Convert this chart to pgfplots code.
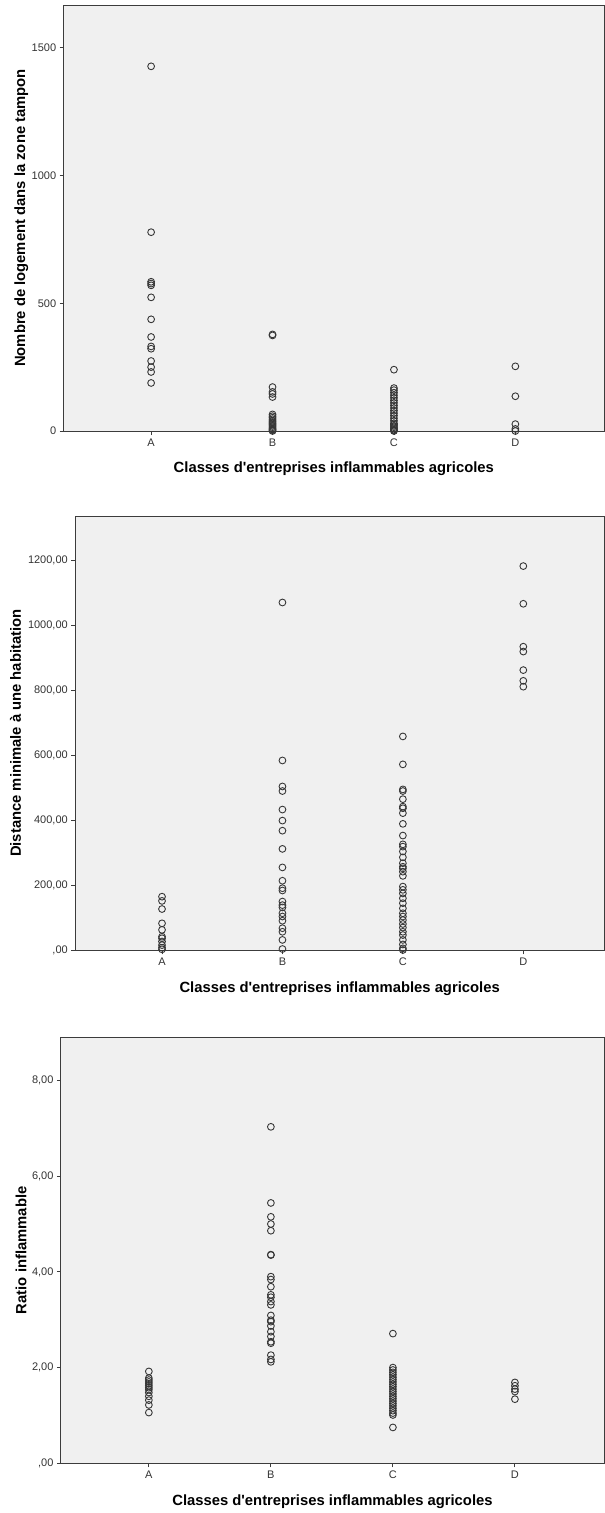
\documentclass[border=0pt]{standalone}
\usepackage{fontspec}
\setmainfont{Liberation Sans}
\usepackage{pgfplots}
\pgfplotsset{compat=1.18}
\definecolor{bgc}{RGB}{240,240,240}
\definecolor{axc}{RGB}{60,60,60}
\definecolor{mkc}{RGB}{55,55,55}
\pgfplotsset{
  spss/.style={
    scale only axis, clip=false,
    axis background/.style={fill=bgc},
    axis line style={axc, line width=1pt},
    tick style={axc, line width=0.9pt},
    tick align=outside, major tick length=4pt,
    xtick pos=bottom, ytick pos=left,
    xtick={1,2,3,4}, xticklabels={A,B,C,D},
    ymin=0,
    tick label style={font=\fontsize{11}{13}\selectfont, text=black!80},
    label style={font=\fontsize{14.8}{17}\selectfont\bfseries},
    /pgf/number format/assume math mode=true,
  },
  sm/.style={only marks, mark=o, mark size=3.4pt, draw=mkc, mark options={draw=mkc, fill=none, line width=0.9pt}},
}
\newcommand{\xlab}{Classes d\textquotesingle entreprises inflammables agricoles}
\begin{document}
\begin{tikzpicture}[x=1pt,y=1pt]
\path[use as bounding box] (0,0) rectangle (605,-1513);
% ---------- Plot 1
\begin{axis}[spss, at={(63.7pt,-431pt)}, anchor=south west,
  width=540.3pt, height=426pt, xmin=0.28, xmax=4.73, ymax=1667,
  ytick={0,500,1000,1500}, yticklabels={0,500,1000,1500},
  xlabel={\xlab}, ylabel={Nombre de logement dans la zone tampon},
  xlabel style={at={(axis description cs:0.5,-0.0883)}, anchor=center},
  ylabel style={at={(axis description cs:-0.0785,0.5)}, anchor=center}]
\addplot[sm] coordinates {(1,1427)(1,778)(1,584)(1,577)(1,570)(1,523)(1,437)(1,368)(1,331)(1,322)(1,274)(1,250)(1,231)(1,188)};
\addplot[sm] coordinates {(2,378)(2,374)(2,172)(2,153)(2,145)(2,133)(2,65)(2,58)(2,52)(2,46)(2,40)(2,35)(2,30)(2,25)(2,20)(2,15)(2,10)(2,6)(2,3)(2,0)};
\addplot[sm] coordinates {(3,240)(3,168)(3,160)(3,150)(3,140)(3,130)(3,120)(3,110)(3,100)(3,90)(3,80)(3,70)(3,60)(3,50)(3,40)(3,30)(3,25)(3,20)(3,15)(3,10)(3,5)(3,2)(3,0)};
\addplot[sm] coordinates {(4,253)(4,136)(4,27)(4,8)(4,0)};
\end{axis}
% ---------- Plot 2
\begin{axis}[spss, at={(75.3pt,-950.3pt)}, anchor=south west,
  width=528.7pt, height=434.3pt, xmin=0.28, xmax=4.67, ymax=1336,
  ytick={0,200,400,600,800,1000,1200}, yticklabels={{,00},{200,00},{400,00},{600,00},{800,00},{1000,00},{1200,00}},
  xlabel={\xlab}, ylabel={Distance minimale à une habitation},
  xlabel style={at={(axis description cs:0.5,-0.0891)}, anchor=center},
  ylabel style={at={(axis description cs:-0.1133,0.5)}, anchor=center}]
\addplot[sm] coordinates {(1,165)(1,152)(1,127)(1,83)(1,63)(1,42)(1,37)(1,27)(1,16)(1,8)(1,3)};
\addplot[sm] coordinates {(2,1070)(2,584)(2,504)(2,490)(2,433)(2,399)(2,368)(2,312)(2,255)(2,214)(2,191)(2,184)(2,150)(2,139)(2,132)(2,114)(2,104)(2,91)(2,68)(2,57)(2,32)(2,4)};
\addplot[sm] coordinates {(3,658)(3,572)(3,495)(3,490)(3,465)(3,442)(3,437)(3,422)(3,389)(3,353)(3,326)(3,319)(3,304)(3,286)(3,268)(3,257)(3,252)(3,242)(3,229)(3,196)(3,186)(3,175)(3,160)(3,145)(3,129)(3,114)(3,104)(3,93)(3,81)(3,70)(3,57)(3,47)(3,32)(3,18)(3,6)(3,1)};
\addplot[sm] coordinates {(4,1182)(4,1066)(4,934)(4,919)(4,862)(4,829)(4,811)};
\end{axis}
% ---------- Plot 3
\begin{axis}[spss, at={(61pt,-1463.3pt)}, anchor=south west,
  width=543pt, height=426pt, xmin=0.28, xmax=4.73, ymax=8.9,
  ytick={0,2,4,6,8}, yticklabels={{,00},{2,00},{4,00},{6,00},{8,00}},
  xlabel={\xlab}, ylabel={Ratio inflammable},
  xlabel style={at={(axis description cs:0.5,-0.090)}, anchor=center},
  ylabel style={at={(axis description cs:-0.0737,0.5)}, anchor=center}]
\addplot[sm] coordinates {(1,1.92)(1,1.78)(1,1.74)(1,1.70)(1,1.66)(1,1.62)(1,1.58)(1,1.54)(1,1.48)(1,1.40)(1,1.32)(1,1.22)(1,1.06)};
\addplot[sm] coordinates {(2,7.03)(2,5.44)(2,5.15)(2,5.00)(2,4.86)(2,4.36)(2,4.35)(2,3.90)(2,3.84)(2,3.69)(2,3.52)(2,3.47)(2,3.38)(2,3.31)(2,3.09)(2,2.99)(2,2.96)(2,2.87)(2,2.75)(2,2.65)(2,2.54)(2,2.51)(2,2.26)(2,2.17)(2,2.12)};
\addplot[sm] coordinates {(3,2.71)(3,2.00)(3,1.95)(3,1.90)(3,1.85)(3,1.80)(3,1.75)(3,1.70)(3,1.65)(3,1.60)(3,1.55)(3,1.50)(3,1.45)(3,1.40)(3,1.35)(3,1.30)(3,1.25)(3,1.20)(3,1.15)(3,1.10)(3,1.05)(3,1.01)(3,0.75)};
\addplot[sm] coordinates {(4,1.69)(4,1.62)(4,1.55)(4,1.50)(4,1.34)};
\end{axis}
\end{tikzpicture}
\end{document}
